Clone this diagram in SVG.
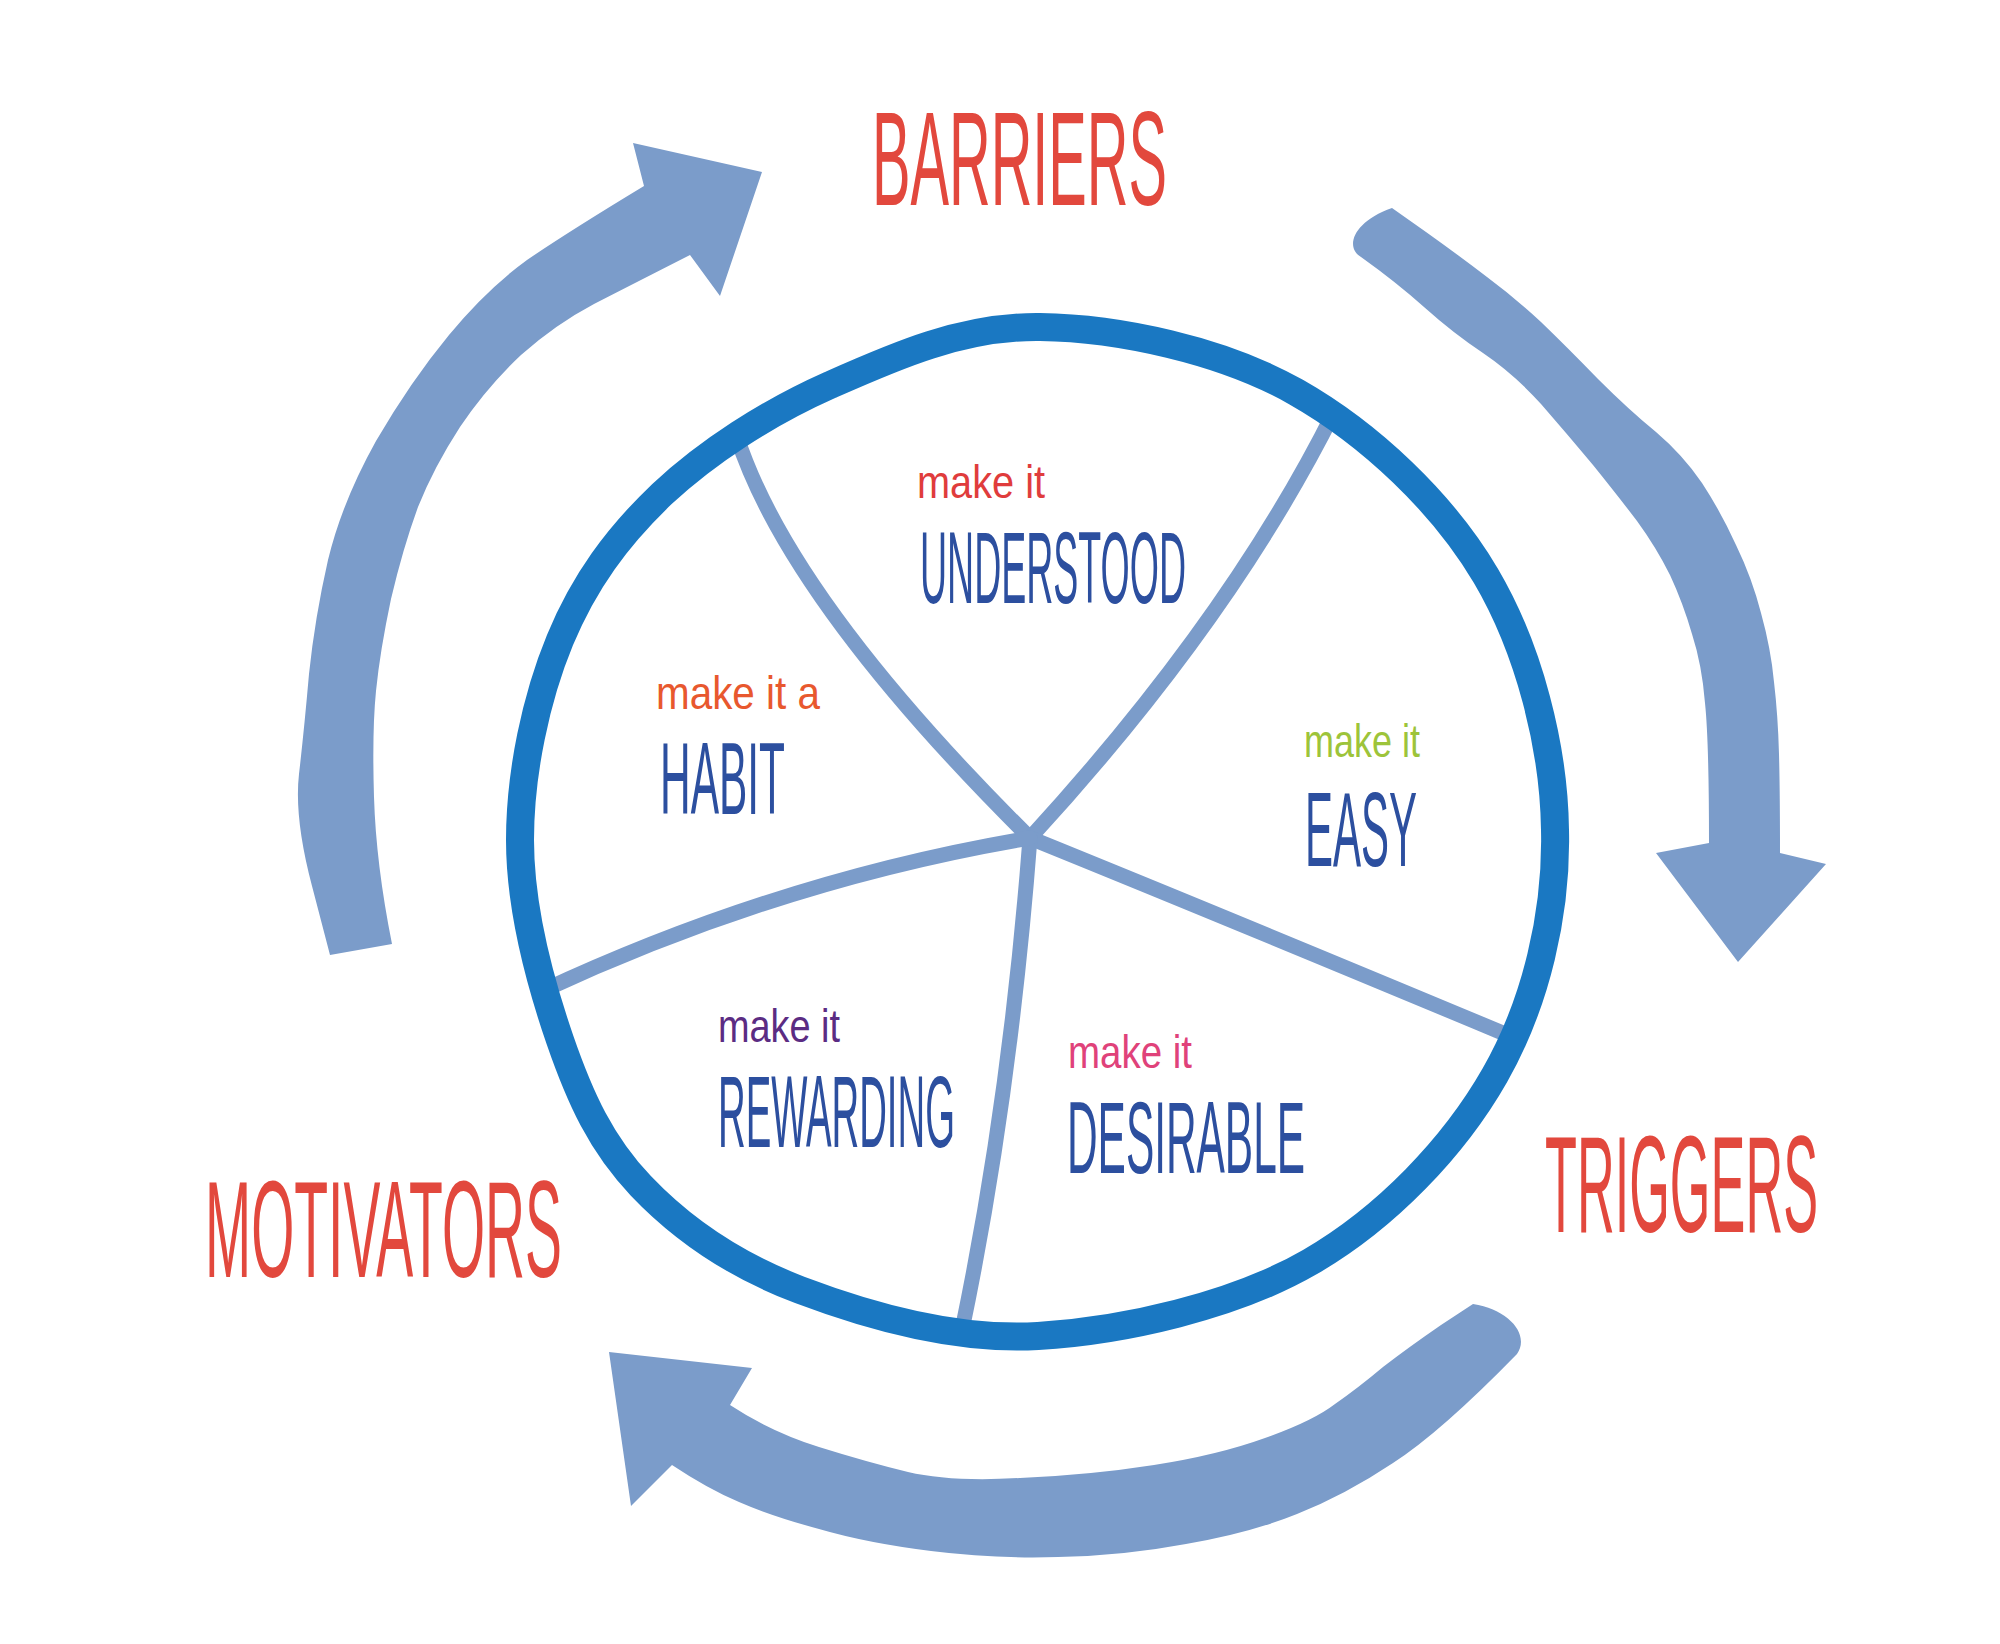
<svg xmlns="http://www.w3.org/2000/svg" width="2000" height="1644" viewBox="0 0 2000 1644">
<style>
text{font-family:"Liberation Sans Narrow","Liberation Sans","DejaVu Sans Condensed",sans-serif}
.big{fill:#e2483d}
.seg{fill:#2c4f9f}
.mk{font-size:46px}
.arrow{fill:#7b9cca;stroke:none}
.spoke{fill:none;stroke:#7b9cca;stroke-width:15;stroke-linecap:round}
.ring{fill:none;stroke:#1a78c2;stroke-width:28}
</style>
<rect x="0" y="0" width="2000" height="1644" fill="#ffffff"/>
<g id="connectors">
<path class="arrow" d="M330 955 L312 886 Q294 818 299 774 Q304 731 309 674 Q315 617 328 560 Q342 502 376 441 Q411 381 449 335 Q487 289 527 260 Q568 232 644 186 L633 143 L762 172 L720 296 L690 255 Q633 284 594 304 Q556 324 521 355 Q487 387 460 427 Q434 467 418 507 Q403 548 391 599 Q380 651 376 691 Q372 731 374 797 Q376 864 392 944 Z"/>
<path class="arrow" d="M1392 208 L1426 232 Q1461 257 1487 277 Q1514 297 1541 322 Q1568 348 1598 379 Q1629 410 1656 432 Q1683 455 1702 483 Q1721 512 1736 545 Q1752 578 1761 613 Q1771 649 1774 682 Q1778 716 1779 754 Q1780 792 1780 853 L1826 864 L1738 962 L1656 853 L1709 843 Q1709 741 1705 703 Q1702 665 1692 634 Q1683 603 1670 575 Q1656 547 1637 521 Q1618 496 1593 465 Q1568 435 1541 404 Q1514 374 1483 353 Q1453 333 1424 307 Q1396 282 1361 257 C1345 248 1352 222 1392 208 Z"/>
<path class="arrow" d="M1473 1304 L1441 1325 Q1409 1347 1383 1367 Q1358 1388 1335 1404 Q1313 1421 1265 1438 Q1218 1455 1154 1465 Q1090 1475 1020 1478 Q950 1482 908 1472 Q867 1462 819 1447 Q771 1432 730 1405 L752 1368 L609 1352 L631 1506 L672 1465 Q708 1489 739 1502 Q771 1516 819 1529 Q867 1543 931 1551 Q995 1559 1058 1557 Q1122 1556 1186 1544 Q1250 1533 1297 1514 Q1345 1495 1393 1463 Q1441 1432 1517 1354 C1530 1335 1510 1310 1473 1304 Z"/>
</g>
<g id="wheel">
<g id="spokes">
<path class="spoke" d="M737 437 Q790 600 1030 838"/>
<path class="spoke" d="M1334 412 Q1230 620 1030 838"/>
<path class="spoke" d="M1030 838 Q1220 915 1510 1036"/>
<path class="spoke" d="M1030 838 Q1010 1100 962 1330"/>
<path class="spoke" d="M1030 838 Q780 880 540 992"/>
</g>
<path id="ring" class="ring" d="M1040 327 C1118 328 1222 350 1296 392 C1370 434 1443 503 1486 576 C1529 649 1554 747 1555 830 C1557 913 1536 1003 1495 1075 C1454 1147 1386 1218 1310 1262 C1234 1306 1123 1331 1038 1336 C953 1341 866 1315 800 1290 C734 1265 681 1228 641 1186 C601 1144 580 1098 560 1040 C540 982 520 907 520 840 C520 773 536 698 560 640 C584 582 617 537 662 494 C707 452 767 413 830 385 C893 357 962 326 1040 327 Z"/>
</g>
<g id="barriers"><text class="big" transform="translate(872,205) scale(1,1.9)" font-size="70.4" textLength="295" lengthAdjust="spacingAndGlyphs">BARRIERS</text></g>
<g id="triggers"><text class="big" transform="translate(1545,1232) scale(1,2.17)" font-size="63.7" textLength="273" lengthAdjust="spacingAndGlyphs">TRIGGERS</text></g>
<g id="motivators"><text class="big" transform="translate(205,1277) scale(1,2.09)" font-size="65.9" textLength="357" lengthAdjust="spacingAndGlyphs">MOTIVATORS</text></g>
<g id="understood">
<text class="mk" x="917" y="498" fill="#e03c3c" textLength="128" lengthAdjust="spacingAndGlyphs">make it</text>
<text class="seg" transform="translate(920,603) scale(1,2.24)" font-size="45.6" textLength="266" lengthAdjust="spacingAndGlyphs">UNDERSTOOD</text>
</g>
<g id="habit">
<text class="mk" x="656" y="709" fill="#e8582e" textLength="164" lengthAdjust="spacingAndGlyphs">make it a</text>
<text class="seg" transform="translate(660,814) scale(1,1.97)" font-size="51.8" textLength="125" lengthAdjust="spacingAndGlyphs">HABIT</text>
</g>
<g id="easy">
<text class="mk" x="1304" y="757" fill="#9dc43a" textLength="116" lengthAdjust="spacingAndGlyphs">make it</text>
<text class="seg" transform="translate(1305,866) scale(1,2.07)" font-size="51.2" textLength="112" lengthAdjust="spacingAndGlyphs">EASY</text>
</g>
<g id="rewarding">
<text class="mk" x="718" y="1042" fill="#5b2c83" textLength="122" lengthAdjust="spacingAndGlyphs">make it</text>
<text class="seg" transform="translate(718,1147) scale(1,2.19)" font-size="46.5" textLength="237" lengthAdjust="spacingAndGlyphs">REWARDING</text>
</g>
<g id="desirable">
<text class="mk" x="1068" y="1068" fill="#e0427a" textLength="124" lengthAdjust="spacingAndGlyphs">make it</text>
<text class="seg" transform="translate(1067,1173) scale(1,1.97)" font-size="51.7" textLength="238" lengthAdjust="spacingAndGlyphs">DESIRABLE</text>
</g>
</svg>
